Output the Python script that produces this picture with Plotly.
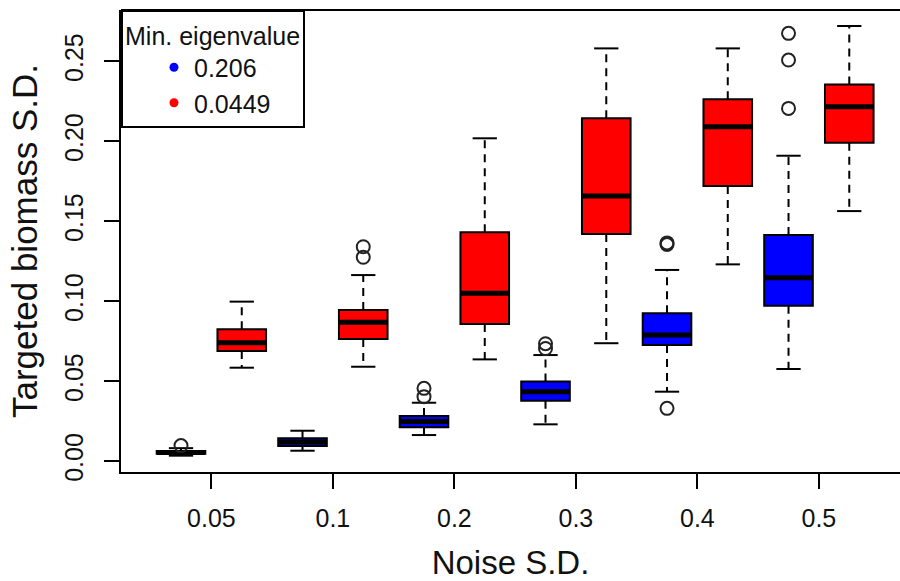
import plotly.graph_objects as go

# ---- data ----
categories = ["0.05", "0.1", "0.2", "0.3", "0.4", "0.5"]
legend_names = ["0.206", "0.0449"]

blue_lo = [0.0035, 0.0066, 0.0164, 0.0231, 0.0435, 0.0577]
blue_q1 = [0.0047, 0.0096, 0.0213, 0.0379, 0.0727, 0.0973]
blue_med = [0.0055, 0.0120, 0.0248, 0.0435, 0.0789, 0.1148]
blue_q3 = [0.0065, 0.0144, 0.0283, 0.0498, 0.0925, 0.1414]
blue_hi = [0.0082, 0.0191, 0.0366, 0.0664, 0.1196, 0.1910]
blue_out = [[0.0098], [], [0.0404, 0.0456], [0.0705, 0.0735], [0.0331, 0.1355, 0.1365], [0.2206, 0.2508, 0.2675]]

red_lo = [0.0585, 0.0591, 0.0637, 0.0738, 0.1231, 0.1564]
red_q1 = [0.0689, 0.0764, 0.0858, 0.1421, 0.1721, 0.1991]
red_med = [0.0741, 0.0869, 0.1050, 0.1658, 0.2091, 0.2216]
red_q3 = [0.0825, 0.0946, 0.1431, 0.2144, 0.2263, 0.2356]
red_hi = [0.0998, 0.1164, 0.2019, 0.2581, 0.2581, 0.2721]
red_out = [[], [0.1275, 0.1341], [], [], [], []]

y_ticks = [0.0, 0.05, 0.10, 0.15, 0.20, 0.25]

FONT = "Liberation Sans, Arial, Helvetica, sans-serif"
BOX_W = 0.8
CAP_HALF = 0.2

n = len(categories)
blue_x = [2 * i + 1 for i in range(n)]
red_x = [2 * i + 2 for i in range(n)]
tick_x = [2 * i + 1.5 for i in range(n)]

fig = go.Figure()


def whiskers(xs, lo, q1, q3, hi):
    wx, wy = [], []
    for x, a, b, c, d in zip(xs, lo, q1, q3, hi):
        wx += [x, x, None, x, x, None]
        wy += [b, a, None, c, d, None]
    return wx, wy


def caps(xs, lo, hi):
    cx, cy = [], []
    for x, a, d in zip(xs, lo, hi):
        cx += [x - CAP_HALF, x + CAP_HALF, None, x - CAP_HALF, x + CAP_HALF, None]
        cy += [a, a, None, d, d, None]
    return cx, cy


def medians(xs, med):
    mx, my = [], []
    for x, m in zip(xs, med):
        mx += [x - BOX_W / 2, x + BOX_W / 2, None]
        my += [m, m, None]
    return mx, my


def outliers(xs, outs):
    ox, oy = [], []
    for x, vals in zip(xs, outs):
        for v in vals:
            ox.append(x)
            oy.append(v)
    return ox, oy


for xs, lo, q1, med, q3, hi, outs, color in [
    (blue_x, blue_lo, blue_q1, blue_med, blue_q3, blue_hi, blue_out, "#0000ff"),
    (red_x, red_lo, red_q1, red_med, red_q3, red_hi, red_out, "#ff0000"),
]:
    wx, wy = whiskers(xs, lo, q1, q3, hi)
    fig.add_trace(go.Scatter(x=wx, y=wy, mode="lines", showlegend=False, hoverinfo="skip",
                             line=dict(color="black", width=2, dash="8px,6px")))
    fig.add_trace(go.Box(x=xs, q1=q1, median=med, q3=q3, lowerfence=q1, upperfence=q3,
                         width=BOX_W, whiskerwidth=0, fillcolor=color, boxpoints=False,
                         line=dict(color="black", width=2), showlegend=False))
    mx, my = medians(xs, med)
    fig.add_trace(go.Scatter(x=mx, y=my, mode="lines", showlegend=False, hoverinfo="skip",
                             line=dict(color="black", width=5)))
    cx, cy = caps(xs, lo, hi)
    fig.add_trace(go.Scatter(x=cx, y=cy, mode="lines", showlegend=False, hoverinfo="skip",
                             line=dict(color="black", width=2)))
    ox, oy = outliers(xs, outs)
    fig.add_trace(go.Scatter(x=ox, y=oy, mode="markers", showlegend=False,
                             marker=dict(symbol="circle-open", size=13, color="#222222",
                                         line=dict(width=2, color="#222222"))))

# legend entries
for name, color in zip(legend_names, ["#0000ff", "#ff0000"]):
    fig.add_trace(go.Scatter(x=[None], y=[None], mode="markers", name=name,
                             marker=dict(symbol="circle", size=9, color=color)))

fig.update_layout(
    width=900, height=581,
    margin=dict(l=121, r=0, t=10, b=109, autoexpand=False),
    paper_bgcolor="white", plot_bgcolor="white",
    font=dict(family=FONT, size=25, color="#111111"),
    boxmode="overlay",
    showlegend=True,
    legend=dict(
        x=0, y=1, xanchor="left", yanchor="top",
        bgcolor="white", bordercolor="black", borderwidth=2,
        title=dict(text="Min. eigenvalue", font=dict(size=25)),
        font=dict(size=25), indentation=31, tracegroupgap=0,
    ),
    xaxis=dict(
        range=[0.0123, 12.835], tickvals=tick_x, ticktext=categories,
        showline=True, linecolor="black", linewidth=2, ticks="outside", ticklen=15,
        tickwidth=2, tickcolor="black", showgrid=False, zeroline=False,
        ticklabelstandoff=8, automargin=False,
        title=dict(text="Noise S.D.", font=dict(size=33), standoff=21),
    ),
    yaxis=dict(
        range=[-0.0067, 0.2821], tickvals=y_ticks, tickformat=".2f",
        showline=True, linecolor="black", linewidth=2, ticks="outside", ticklen=15,
        tickwidth=2, tickcolor="black", showgrid=False, zeroline=False, tickangle=-90,
        ticklabelstandoff=11, automargin=False,
        title=dict(text="Targeted biomass S.D.", font=dict(size=35), standoff=12),
    ),
    shapes=[dict(type="line", xref="paper", yref="paper", x0=0, x1=1, y0=1, y1=1,
                 line=dict(color="black", width=2))],
)

# remove the browser's default 8px page margin so the figure fills the window
fig.write_html(
    "out.html",
    config={"displayModeBar": False},
    post_script="document.body.style.margin='0';document.body.style.overflow='hidden';",
)
